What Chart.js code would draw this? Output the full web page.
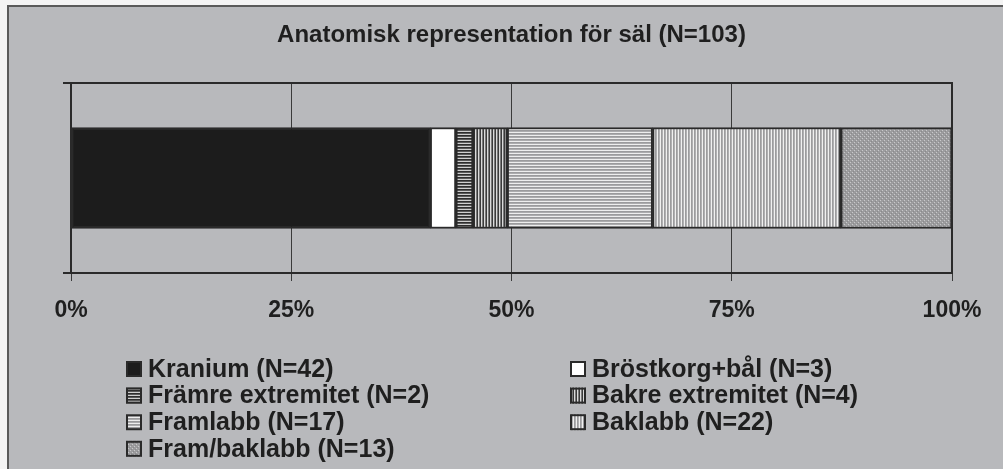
<!DOCTYPE html>
<html>
<head>
<meta charset="utf-8">
<script src="https://cdn.jsdelivr.net/npm/chart.js@4.4.1/dist/chart.umd.min.js"></script>
<style>
  html, body { margin: 0; padding: 0; background: #f4f4f4; width: 1003px; height: 469px; overflow: hidden; }
  #frame { position: absolute; left: 7px; top: 5px; width: 1010px; height: 480px;
           background: #b8b9bc; border-left: 2px solid #5a5a5a; border-top: 2px solid #5a5a5a; }
  #c { position: absolute; left: 0; top: 0; }
</style>
</head>
<body>
<div id="frame"></div>
<canvas id="c" width="1003" height="469"></canvas>
<script>
// ---- data ----
const titleText = 'Anatomisk representation för säl (N=103)';
const categories = [''];
const seriesNames = ['Kranium', 'Bröstkorg+bål', 'Främre extremitet', 'Bakre extremitet', 'Framlabb', 'Baklabb', 'Fram/baklabb'];
const seriesCounts = [42, 3, 2, 4, 17, 22, 13];
const tickLabels = ['0%', '25%', '50%', '75%', '100%'];

// ---- styles ----
const FONT = "'Liberation Sans', Arial, Helvetica, sans-serif";
const INK = '#1f1f1f';
const EDGE = '#2a2a2a';

function stripeTile(dir, cols) {
  const n = cols.length;
  const t = document.createElement('canvas');
  t.width = dir === 'v' ? n : 4;
  t.height = dir === 'v' ? 4 : n;
  const g = t.getContext('2d');
  cols.forEach((c, i) => {
    g.fillStyle = c;
    if (dir === 'v') g.fillRect(i, 0, 1, 4); else g.fillRect(0, i, 4, 1);
  });
  return g.createPattern(t, 'repeat');
}
function dotTile() {
  const t = document.createElement('canvas');
  t.width = 4; t.height = 4;
  const g = t.getContext('2d');
  g.fillStyle = '#9c9c9e'; g.fillRect(0, 0, 4, 4);
  g.fillStyle = '#c9c9cb';
  g.fillRect(0, 0, 1, 1); g.fillRect(2, 2, 1, 1);
  g.fillStyle = '#8a8a8c';
  g.fillRect(1, 3, 1, 1); g.fillRect(3, 1, 1, 1);
  return g.createPattern(t, 'repeat');
}
const fills = [
  '#1c1c1c',
  '#ffffff',
  stripeTile('h', ['#2e2e2e', '#5a5a5a', '#cfcfcf']),
  stripeTile('v', ['#3a3a3a', '#dadada', '#7a7a7a']),
  stripeTile('h', ['#eeeeee', '#9b9b9d', '#acacae']),
  stripeTile('v', ['#f0f0f0', '#9b9b9d', '#b0b0b2']),
  dotTile()
];

const total = seriesCounts.reduce((a, b) => a + b, 0);
const datasets = seriesNames.map((name, i) => ({
  label: name + ' (N=' + seriesCounts[i] + ')',
  data: [seriesCounts[i] / total * 100],
  backgroundColor: fills[i],
  borderColor: EDGE,
  borderWidth: 2,
  borderSkipped: false,
  barThickness: 101
}));

const framePlugin = {
  id: 'frame',
  afterDatasetsDraw(chart) {
    const { ctx, chartArea: a } = chart;
    ctx.save();
    ctx.strokeStyle = EDGE;
    ctx.lineWidth = 2;
    ctx.strokeRect(a.left, a.top, a.right - a.left, a.bottom - a.top);
    ctx.restore();
  }
};

const titlePlugin = {
  id: 'ctitle',
  afterDraw(chart) {
    const { ctx, chartArea: a } = chart;
    ctx.save();
    ctx.font = 'bold 24px ' + FONT;
    ctx.fillStyle = INK;
    ctx.textAlign = 'center';
    ctx.textBaseline = 'middle';
    ctx.fillText(titleText, (a.left + a.right) / 2, 35);
    ctx.restore();
  }
};

const legendPlugin = {
  id: 'clegend',
  afterDraw(chart) {
    const { ctx } = chart;
    const colX = [126, 570];
    const rowY0 = 369, rowH = 26.6, box = 16;
    ctx.save();
    ctx.font = 'bold 25px ' + FONT;
    ctx.textBaseline = 'middle';
    ctx.textAlign = 'left';
    chart.data.datasets.forEach((ds, i) => {
      const x = colX[i % 2];
      const y = rowY0 + Math.floor(i / 2) * rowH;
      ctx.fillStyle = ds.backgroundColor;
      ctx.fillRect(x, y - box / 2, box, box);
      ctx.strokeStyle = EDGE;
      ctx.lineWidth = 2;
      ctx.strokeRect(x + 1, y - box / 2 + 1, box - 2, box - 2);
      ctx.fillStyle = INK;
      ctx.fillText(ds.label, x + box + 6, y + 1);
    });
    ctx.restore();
  }
};

new Chart(document.getElementById('c'), {
  type: 'bar',
  data: { labels: categories, datasets },
  options: {
    responsive: false,
    animation: false,
    indexAxis: 'y',
    layout: { padding: { left: 63, right: 51, top: 83, bottom: 136 } },
    plugins: { legend: { display: false }, title: { display: false }, tooltip: { enabled: false } },
    scales: {
      x: {
        stacked: true,
        min: 0, max: 100,
        afterFit(s) { s.height = 60; },
        ticks: {
          stepSize: 25,
          padding: 16,
          color: INK,
          font: { family: FONT, size: 23, weight: 'bold' },
          callback: (v, i) => tickLabels[i]
        },
        grid: { color: '#3a3a3a', lineWidth: 1, tickLength: 8, drawTicks: true },
        border: { display: true, color: EDGE, width: 2 }
      },
      y: {
        stacked: true,
        ticks: { display: false },
        grid: { drawOnChartArea: false, color: EDGE, lineWidth: 2, tickLength: 8 },
        border: { display: true, color: EDGE, width: 2 }
      }
    }
  },
  plugins: [framePlugin, titlePlugin, legendPlugin]
});
</script>
</body>
</html>
